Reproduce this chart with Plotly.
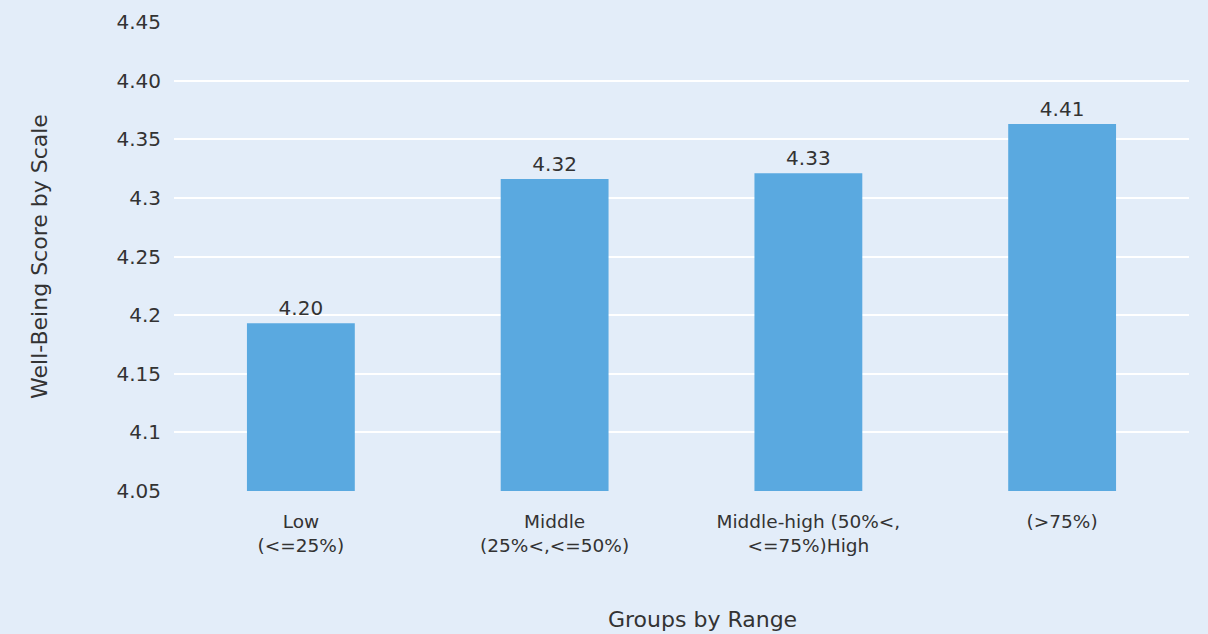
import plotly.graph_objects as go

categories = ["Low<br>(&lt;=25%)", "Middle<br>(25%&lt;,&lt;=50%)",
              "Middle-high (50%&lt;,<br>&lt;=75%)High", "(>75%)"]
values = [4.193, 4.316, 4.321, 4.363]
value_labels = ["4.20", "4.32", "4.33", "4.41"]
tick_vals = [4.05, 4.10, 4.15, 4.20, 4.25, 4.30, 4.35, 4.40, 4.45]
tick_text = ["4.05", "4.1", "4.15", "4.2", "4.25", "4.3", "4.35", "4.40", "4.45"]

font_family = "'DejaVu Sans', sans-serif"
text_color = "#333333"
bg = "#E3EDF9"

fig = go.Figure(go.Bar(
    x=categories, y=values, base=0,
    marker=dict(color="#5AA9E0", line=dict(width=0)),
    text=value_labels, textposition="outside",
    textfont=dict(size=20, color=text_color, family=font_family),
    cliponaxis=False,
))

fig.update_layout(
    width=1208, height=634,
    paper_bgcolor=bg, plot_bgcolor=bg,
    margin=dict(l=174, r=19, t=22, b=143),
    bargap=0.575,
    showlegend=False,
    font=dict(family=font_family, color=text_color, size=20),
    xaxis=dict(
        tickfont=dict(size=18.5), showgrid=False, zeroline=False,
        ticks="", showline=False, ticklabelstandoff=17, automargin=False,
    ),
    yaxis=dict(
        title=dict(text="Well-Being Score by Scale", font=dict(size=22), standoff=62),
        range=[4.05, 4.45], tickvals=tick_vals, ticktext=tick_text,
        tickfont=dict(size=20), gridcolor="white", gridwidth=2,
        zeroline=False, showline=False, ticks="", ticklabelstandoff=12,
        automargin=False,
    ),
    annotations=[dict(
        text="Groups by Range", xref="paper", yref="paper",
        x=0.5205, y=-0.275, xanchor="center", yanchor="middle",
        showarrow=False, font=dict(size=22, color=text_color, family=font_family),
    )],
)

fig.write_html("out.html")
